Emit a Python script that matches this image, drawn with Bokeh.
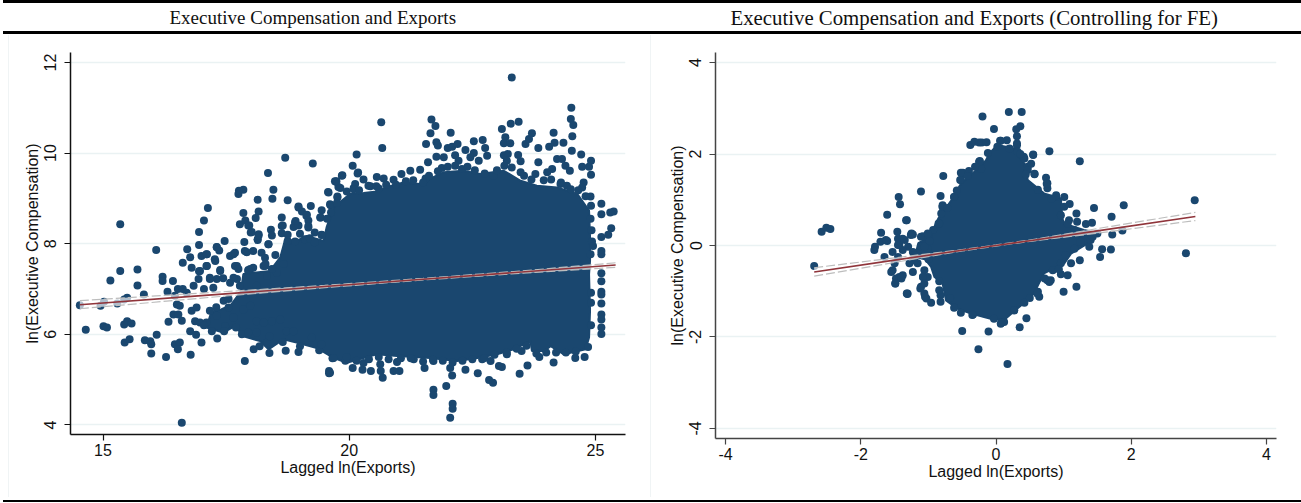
from bokeh.plotting import figure
from bokeh.layouts import row, column
from bokeh.models import FixedTicker, Range1d, Div, Title
from bokeh.embed import file_html
from bokeh.resources import INLINE

titles = ["Executive Compensation and Exports", "Executive Compensation and Exports (Controlling for FE)"]
xlabel = "Lagged ln(Exports)"
ylabel = "ln(Executive Compensation)"
NAVY = "#1a476f"

# Panel A: individually legible firm-years
a_pts = [
(15.35,8.43),(16.08,7.86),(16.71,7.88),(16.95,8.26),(16.95,7.97),(17.05,8.51),(17.13,8.79),(17.31,7.92),(17.47,8.06),
(17.75,9.10),(17.85,9.19),(17.76,9.17),(17.85,8.68),(17.78,8.43),(17.89,8.51),(17.87,8.04),(17.95,8.40),(18.0,8.25),
(18.14,8.97),(18.16,8.71),(18.1,8.57),(18.16,8.21),(18.14,8.08),(18.35,9.56),(18.46,9.19),(18.44,8.99),(18.36,7.99),
(18.41,8.31),(18.43,8.18),(18.63,8.58),(18.65,8.40),(18.63,8.23),(18.75,8.96),(18.70,9.90),(18.75,8.06),(18.9,8.47),
(18.87,8.37),(18.97,8.40),(18.97,8.80),(19.04,8.71),(19.13,8.62),(19.17,8.51),(19.17,8.36),(19.22,8.83),(19.26,9.77),
(19.44,8.74),(19.41,8.58),(19.44,8.19),(19.58,9.13),(19.62,8.85),(19.63,8.69),(19.73,9.37),(19.76,9.02),(19.78,9.25),
(19.1,8.10),(19.2,8.12),(19.3,8.03),(18.9,8.05),(19.85,9.5),
(14.53,6.64),(14.65,6.10),(14.95,6.63),(15.02,6.72),(15.01,6.18),(15.08,6.15),(15.15,7.19),(15.35,7.40),(15.70,7.43),
(15.70,7.08),(15.29,6.68),(15.43,6.77),(15.49,6.81),(15.43,6.22),(15.49,6.29),(15.58,6.24),(15.44,5.82),(15.54,5.89),
(15.83,6.88),(15.85,5.87),(15.96,5.85),(15.98,5.78),(15.98,5.58),(16.09,5.99),(16.21,7.27),(16.21,7.18),(16.28,5.5),
(16.33,6.28),(16.31,6.94),(16.42,7.18),(16.46,6.85),(16.52,7.0),(16.62,7.0),(16.7,6.92),(16.46,5.78),(16.56,5.82),
(16.52,5.67),(16.78,5.55),(16.6,4.05),(16.62,7.58),(16.43,6.44),(16.53,6.44),(16.6,6.3),(16.5,6.66),(16.56,6.63),
(16.77,6.07),(16.89,5.99),(17.0,5.82),(16.8,6.52),(16.9,6.59),(16.87,6.29),(16.97,6.26),(16.77,7.7),(16.8,7.47),
(16.95,7.39),(17.1,7.51),(17.28,7.62),(16.84,7.07),(16.94,7.22),(17.05,7.0),(17.24,7.03),(17.17,7.22),(17.31,7.22),
(17.38,7.4),(17.0,7.73),(17.1,7.77),(17.58,7.73),(17.65,7.77),(17.92,7.81),(17.17,6.52),(17.31,6.41),(17.1,6.26),
(17.21,6.07),(17.32,5.91),(17.48,6.18),(17.46,6.07),(17.58,7.14),(17.72,7.22),(17.78,7.07),(17.45,6.74),(17.55,6.59),
(17.65,6.37),(17.72,7.51),(17.95,7.4),(18.05,7.47),(18.29,7.51),(18.33,7.29),(17.7,6.15),(17.82,6.0),(17.95,6.04),
(18.12,6.04),(17.88,5.41),(18.06,5.67),(18.18,5.74),(18.33,5.82),(18.38,5.96),(18.38,5.59),(17.85,6.55),(17.99,6.63),
(18.12,6.29),(18.26,6.26),(18.43,6.29),(18.12,7.07),(18.53,7.36),(18.67,7.55),(18.6,6.33),(18.73,6.07),(18.65,5.83),
(18.71,5.64),(18.87,6.07),(19.0,5.74),(18.97,5.61),(19.39,5.65),(19.24,5.93),(19.44,5.78),(19.66,5.47),(19.59,5.19),(19.59,5.14),
(20.65,10.68),(20.67,10.11),(20.15,9.97),(20.07,9.72),(20.18,9.57),(19.86,9.51),(19.74,9.38),(19.82,9.23),(20.29,9.42),
(20.09,9.23),(19.76,9.04),(20.56,9.47),(20.70,9.44),(20.43,9.27),(20.55,9.27),(20.9,9.41),(21.06,9.54),(21.24,9.61),
(21.44,9.63),(21.55,9.44),(21.6,9.8),(21.67,10.74),(21.75,10.6),(21.65,10.44),(21.56,10.2),(21.77,10.24),(21.8,10.17),
(21.77,9.92),(21.92,9.91),(22.06,10.45),(22.0,10.11),(22.09,10.14),(22.2,10.2),(22.15,9.95),(22.22,9.83),(22.36,10.07),
(22.53,10.26),(22.53,10.0),(22.71,10.29),(22.76,10.11),(22.46,9.91),(22.63,9.83),(22.8,9.94),(23.1,10.53),(23.28,10.65),
(23.44,10.69),(23.17,10.35),(23.14,10.22),(23.27,10.22),(23.14,9.95),(23.22,9.98),(23.43,9.96),(23.48,9.82),(23.58,10.2),
(23.65,10.31),(23.71,10.44),(23.84,10.11),(23.84,9.8),(24.15,10.45),(24.06,10.14),(24.17,10.23),(24.35,10.23),(24.51,11.0),
(24.5,10.75),(24.55,10.62),(24.53,10.37),(24.52,10.05),(24.71,9.97),(24.91,9.83),(24.73,9.7),(24.87,9.7),(24.91,9.52),
(24.22,9.87),(24.32,9.87),(24.39,9.72),(24.48,9.61),(24.12,9.65),(24.02,9.58),(23.78,9.54),(23.48,9.58),(24.76,9.35),
(24.73,9.24),(24.29,9.32),(24.42,9.28),(24.9,9.04),(24.91,8.84),(25.12,8.88),(25.12,8.65),(25.37,8.71),(25.3,8.69),
(25.32,8.34),(25.26,8.2),(25.12,8.15),(25.12,7.84),(25.12,7.77),(24.9,7.77),(21.88,9.67),(22.29,9.65),(22.93,9.5),(23.2,9.83),
(23.3,11.67),
(25.12,7.35),(25.12,7.17),(25.12,6.94),(25.12,6.88),(25.12,6.68),(25.12,6.44),(25.12,6.33),(25.12,6.15),(25.12,6.01),
(24.91,6.92),(24.91,6.70),(24.91,6.2),(19.61,5.15),(20.07,5.26),(20.27,5.22),(20.44,5.19),(20.63,5.34),(20.64,5.19),
(20.68,5.04),(20.9,5.19),(21.02,5.19),(21.53,5.26),(21.71,4.78),(21.71,4.66),(21.97,4.86),(22.09,5.09),(22.1,4.47),
(22.1,4.36),(22.05,4.16),(22.05,5.26),(22.36,5.22),(22.61,5.14),(22.84,4.99),(22.92,4.93),(22.87,5.41),(23.04,5.3),
(23.1,5.28),(23.46,5.13),(23.62,5.31),(23.5,5.63),(23.86,5.5),(24.15,5.38),(24.59,5.48),(24.78,5.5),(19.68,5.48),
(19.92,5.42),(20.29,5.37),(20.97,5.39),(21.31,5.45),(21.71,5.41),(22.7,5.45),(23.2,5.56),
(17.31,7.93),(17.36,7.85),(17.11,7.77),(17.27,7.66),(17.68,7.80),(17.88,7.84),(18.05,7.84),(18.22,7.80),(18.29,7.69),
(17.38,7.42),(17.11,7.51),(16.97,7.4),(17.68,7.51),(17.75,7.44),(17.99,7.44),(18.26,7.51),(18.43,7.44),(17.17,7.25),
(17.44,7.24),(17.65,7.25),(18.14,8.10),(18.36,7.99),(18.63,8.39),(18.91,8.5),(19.17,8.39),(18.97,8.82),(19.14,8.64),
(19.42,8.58),(19.57,9.14),(19.61,8.87),(19.71,9.38),(20.17,9.55),(20.12,9.32),(20.09,9.2),(20.39,9.28),(19.44,8.2),
(17.97,8.4),(18.02,8.26),(18.16,8.18),
(20.6,9.22),(20.75,9.3),(20.95,9.3),(21.15,9.38),(21.3,9.4),(21.5,9.35),(21.62,9.5),(21.8,9.6),(22.0,9.7),(22.15,9.72),
(22.4,9.7),(22.55,9.62),(22.75,9.55),(23.0,9.62),(23.15,9.72),(23.3,9.68),(23.55,9.5),(23.7,9.42),(23.95,9.4),(24.1,9.42),
(24.3,9.35),(24.5,9.2),(24.65,9.18),(24.8,9.05),(24.9,8.55),(24.92,8.3),(24.93,8.05),(24.95,7.95),
(24.85,5.72),(24.6,5.62),(24.4,5.6),(24.2,5.6),(24.0,5.6),(23.8,5.58),(23.6,5.75),(23.4,5.68),(23.2,5.6),(22.95,5.55),
(22.75,5.48),(22.5,5.45),(22.3,5.42),(22.1,5.38),(21.9,5.42),(21.7,5.44),(21.5,5.4),(21.25,5.47),(21.05,5.47),(20.8,5.45),
(20.6,5.5),(20.4,5.45),(20.15,5.42),(19.95,5.5),
(18.5,7.75),(18.75,8.2),(19.0,8.22),(19.3,8.25),(19.55,8.55),(19.75,8.9),(19.95,9.15),(20.2,9.18),(18.3,7.55),(17.95,7.42),
(17.55,6.78),(17.3,6.6),(17.05,6.2),
]
# Outline of the part of panel A where the points merge into a solid mass
a_mass_x = [19.68,20.02,20.29,20.56,20.77,21.1,21.44,21.71,21.92,22.32,22.66,23.14,23.48,23.81,24.22,24.63,24.87,24.89,24.89,
            24.87,24.89,24.87,24.80,24.36,24.09,23.95,23.71,23.68,23.34,23.0,22.6,22.19,21.65,20.97,20.56,20.29,19.95,19.68,
            19.34,18.97,18.66,18.36,18.19,17.85,17.68,17.44,17.1,17.2,17.4,17.6,17.8,17.85,18.39,18.6,18.7,18.93,19.14,19.48,19.54]
a_mass_y = [8.80,9.10,9.12,9.15,9.25,9.35,9.32,9.47,9.58,9.61,9.54,9.61,9.39,9.28,9.24,9.1,8.73,8.14,7.62,
            7.33,6.52,5.93,5.67,5.56,5.74,5.63,5.63,5.85,5.67,5.56,5.48,5.41,5.48,5.52,5.56,5.48,5.37,5.48,
            5.70,5.81,5.89,5.67,5.85,5.96,6.18,6.04,6.15,6.5,6.55,6.65,6.95,7.33,7.4,7.70,8.10,8.06,8.17,8.06,8.36]
a_fit_x = [14.53, 17.0, 19.5, 21.5, 23.5, 25.41]
a_fit_y = [6.655, 6.854, 7.055, 7.216, 7.376, 7.53]
a_fit_lo = [6.565, 6.80, 7.03, 7.20, 7.35, 7.48]
a_fit_hi = [6.745, 6.91, 7.08, 7.235, 7.40, 7.58]

# Panel B: individually legible residuals
b_pts = [
(-2.69,-0.45),(-2.58,0.30),(-2.51,0.39),(-2.45,0.36),(-1.79,-0.03),(-1.80,-0.10),(-1.70,0.28),(-1.71,0.08),(-1.61,0.10),
(-1.61,0.67),(-1.44,1.06),(-1.42,0.90),(-1.32,0.55),(-1.46,0.30),(-1.11,1.18),(-0.78,1.52),(-0.82,1.08),(-1.23,0.24),
(-1.45,0.15),(-1.38,0.15),(-1.43,0.01),(-1.30,-0.03),(-1.23,-0.14),(-1.08,0.20),(-1.01,0.23),(-1.11,-0.03),(-1.01,-0.07),
(-0.79,0.85),(-0.81,0.70),(-0.84,0.48),(-0.93,0.34),(-0.52,1.43),(-0.49,1.59),(-0.40,1.63),(-0.38,2.20),(-0.32,2.27),
(-0.25,2.25),(-0.20,2.82),(-0.25,1.83),(-0.62,1.06),(-1.65,-0.25),(-1.53,-0.14),(-1.45,-0.25),(-1.53,-0.54),(-1.48,-0.72),
(-1.49,-0.83),(-1.43,-0.69),(-1.38,-0.65),(-1.31,-1.05),(-1.11,-0.9),(-1.06,-1.05),(-1.03,-1.16),(-1.16,-0.39),(-1.21,-0.32),
(-1.06,-0.54),(-1.01,-0.69),(-1.08,-0.69),(-0.82,-1.09),
(0.19,2.92),(0.38,2.92),(-0.03,2.55),(0.36,2.61),(0.30,2.54),(0.31,2.39),(0.31,2.23),(-0.21,2.25),(-0.14,2.26),(0.07,2.29),
(0.16,2.30),(0.79,2.06),(0.55,1.98),(1.24,1.84),(-0.24,1.85),(-0.5,1.58),(-0.53,1.43),(-0.22,1.68),(0.42,1.90),(0.47,1.72),
(0.57,1.56),(0.74,1.48),(0.76,1.36),(0.76,1.25),(1.01,1.06),(0.89,1.06),(1.09,0.91),(1.19,0.70),(1.45,0.82),(1.89,0.88),
(1.71,0.63),(2.94,0.99),(2.81,-0.17),(1.08,0.55),(1.20,0.52),(1.33,0.47),(1.42,0.50),(1.72,0.24),(1.87,0.33),(1.57,-0.08),
(1.70,-0.09),(1.54,-0.25),(1.38,-0.03),(1.40,0.12),(1.24,-0.32),(1.11,-0.39),(1.06,-0.65),(0.96,-0.63),(1.19,-0.90),
(1.00,-1.01),(0.79,-0.80),(0.64,-1.12),(0.62,-1.01),(0.45,-1.59),(0.35,-1.79),(0.07,-1.71),(0.12,-1.67),(-0.11,-1.88),
(-0.50,-1.87),(-0.26,-2.27),(0.17,-2.59),(0.42,-1.25),(0.27,-1.41),(-0.34,-1.51),(-0.52,-1.47),(-0.62,-1.36),(-0.82,-1.23),
(-0.96,-1.25),(-1.05,-1.12),(-1.12,-0.94),(-1.31,-1.06),(-0.84,-0.98),(-1.33,0.55),(-1.25,0.26),(-1.11,0.19),(-1.01,0.26),
(-1.11,-0.03),(-1.35,0.12),(-0.79,0.88),(-1.28,-0.39),(-1.23,-0.58),(-1.40,-0.72),(-1.08,-0.69),(-1.06,-0.83),
(-0.52,1.59),(-0.24,1.83),(0.06,2.29),(0.31,2.19),(0.32,2.05),(0.41,1.94),(0.55,1.99),(0.57,1.57),(0.75,1.35),(0.89,1.1),
(-0.79,0.84),(-0.62,1.06),(-0.85,0.48),(0.52,1.79),(0.47,1.65),
(-1.49,-0.83),(-1.32,-1.05),(-0.35,-1.52),(-0.03,-1.60),(0.08,-1.69),(0.27,-1.42),(0.61,-1.05),(0.81,-0.76),(-1.55,-0.58),
(-1.40,-0.69),(-1.50,-0.39),(-1.38,-0.1),(-1.63,0.12),(-1.45,0.01),(-1.26,0.23),(-1.06,-0.03),(-1.21,-0.21),
(1.06,0.48),(1.16,0.34),(1.25,0.26),(1.43,0.19),(1.50,0.26),(1.25,0.08),(1.16,-0.07),(1.03,-0.21),(0.96,-0.39),(0.84,-0.54),
(0.76,-0.76),(1.01,0.85),(0.96,0.66),
(-0.42,1.52),(-0.31,1.72),(-0.12,2.02),(0.02,2.16),(0.2,2.12),(0.36,2.0),(0.44,1.55),(0.62,1.22),(0.82,1.02),(-0.72,0.82),
(-0.58,1.2),(-0.98,0.1),(-1.0,-0.3),(-0.84,-0.78),(-0.68,-1.15),(0.5,-1.15),(0.72,-0.72),(0.93,-0.52),
]
b_mass_x = [0.02,0.27,0.34,0.42,0.47,0.71,0.96,0.98,1.0,1.3,1.5,1.35,1.11,1.01,0.71,0.56,0.37,0.12,-0.08,-0.37,-0.57,-0.74,-0.79,-0.91,
            -0.96,-1.05,-1.2,-1.15,-0.96,-0.9,-0.85,-0.66,-0.52,-0.32,-0.15,-0.1]
b_mass_y = [2.2,2.12,1.94,1.79,1.43,1.14,1.03,0.63,0.48,0.34,0.28,0.04,-0.18,-0.39,-0.61,-1.05,-1.31,-1.63,-1.60,-1.49,-1.38,-1.2,-0.83,-0.69,
            -0.47,-0.3,-0.25,0.05,0.2,0.45,0.6,0.99,1.35,1.61,1.86,2.01]
b_fit_x = [-2.69, -1.5, -0.5, 0.0, 0.5, 1.5, 2.95]
b_fit_y = [-0.578, -0.32, -0.105, 0.0, 0.105, 0.32, 0.634]
b_fit_lo = [-0.67, -0.37, -0.12, -0.012, 0.09, 0.27, 0.545]
b_fit_hi = [-0.486, -0.27, -0.09, 0.012, 0.12, 0.37, 0.723]

def panel(width, bl, br, bb, xr, yr, xt, yt, pts, mx, my, fx, fy, lo, hi, title, title_offset, title_size, title_standoff, axis_color):
    p = figure(width=width, height=503, output_backend="svg", toolbar_location=None,
               x_range=Range1d(*xr), y_range=Range1d(*yr),
               min_border_left=bl, min_border_right=br, min_border_top=52, min_border_bottom=bb)
    p.frame_align = False
    p.title.text = title
    p.title.align = "left"
    p.title.offset = title_offset
    p.title.standoff = title_standoff
    p.title.vertical_align = "top"
    p.title.text_font = "Liberation Serif"
    p.title.text_font_size = title_size
    p.title.text_font_style = "normal"
    p.title.text_color = "#111111"
    # empty band between the title and the plot area
    p.add_layout(Title(text=" ", text_font_size="14px", standoff=0), "above")
    p.outline_line_color = None
    p.xgrid.visible = False
    p.ygrid.grid_line_color = "#eaf2f3"
    p.ygrid.grid_line_width = 1.5
    p.xaxis.ticker = FixedTicker(ticks=xt)
    p.yaxis.ticker = FixedTicker(ticks=yt)
    overrides = {t: str(t) for t in list(xt) + list(yt)}
    for ax in (p.xaxis[0], p.yaxis[0]):
        ax.major_label_overrides = overrides
        ax.major_tick_in = 0
        ax.major_tick_out = 6
        ax.minor_tick_line_color = None
        ax.axis_line_color = axis_color
        ax.major_tick_line_color = axis_color
        ax.axis_line_width = 1.5
        ax.major_tick_line_width = 1.2
        ax.major_label_text_font = "Liberation Sans"
        ax.major_label_text_font_size = "16px"
        ax.major_label_text_color = "#111111"
        ax.axis_label_text_font = "Liberation Sans"
        ax.axis_label_text_font_size = "16px"
        ax.axis_label_text_font_style = "normal"
        ax.axis_label_text_color = "#111111"
    p.xaxis.axis_label = xlabel
    p.yaxis.axis_label = ylabel
    p.xaxis.major_label_standoff = 3
    p.xaxis.axis_label_standoff = 0
    p.yaxis.major_label_standoff = 8
    p.yaxis.axis_label_standoff = 1
    p.yaxis.major_label_orientation = "vertical"

    p.patch(mx, my, fill_color=NAVY, line_color=NAVY, line_width=2)
    p.scatter([a for a, b in pts], [b for a, b in pts], size=8, fill_color=NAVY, line_color=None)
    p.varea(fx, lo, hi, fill_color="white", fill_alpha=0.65)
    p.line(fx, lo, line_color="#bdbdbd", line_width=1.2, line_dash="9 3")
    p.line(fx, hi, line_color="#bdbdbd", line_width=1.2, line_dash="9 3")
    p.line(fx, fy, line_color="#90353b", line_width=1.6)
    return p

p1 = panel(650, 70, 25, 69, (14.34, 25.61), (3.79, 12.22), [15, 20, 25], [4, 6, 8, 10, 12],
           a_pts, a_mass_x, a_mass_y, a_fit_x, a_fit_y, a_fit_lo, a_fit_hi, titles[0], 99, "19px", 10, "#111111")
p2 = panel(651, 65, 25, 65, (-4.15, 4.15), (-4.22, 4.22), [-4, -2, 0, 2, 4], [-4, -2, 0, 2, 4],
           b_pts, b_mass_x, b_mass_y, b_fit_x, b_fit_y, b_fit_lo, b_fit_hi, titles[1], 15, "20.8px", 8, "#444444")

def rule(w, h, color, margin):
    return Div(text="", width=w, height=h, margin=margin, styles={"background-color": color})

page = column(
    row(p1, p2, spacing=0, margin=0),
    rule(1298, 3, "black", (-503, 0, 0, 3)),
    rule(1298, 3, "black", (28, 0, 0, 3)),
    rule(1298, 2, "black", (466, 0, 0, 3)),
    rule(1, 462, "#f0f4f5", (-467, 0, 0, 8)),
    rule(1, 462, "#f0f4f5", (-462, 0, 0, 650)),
    spacing=0, margin=0,
)
open("out.html", "w").write(file_html(page, INLINE))
